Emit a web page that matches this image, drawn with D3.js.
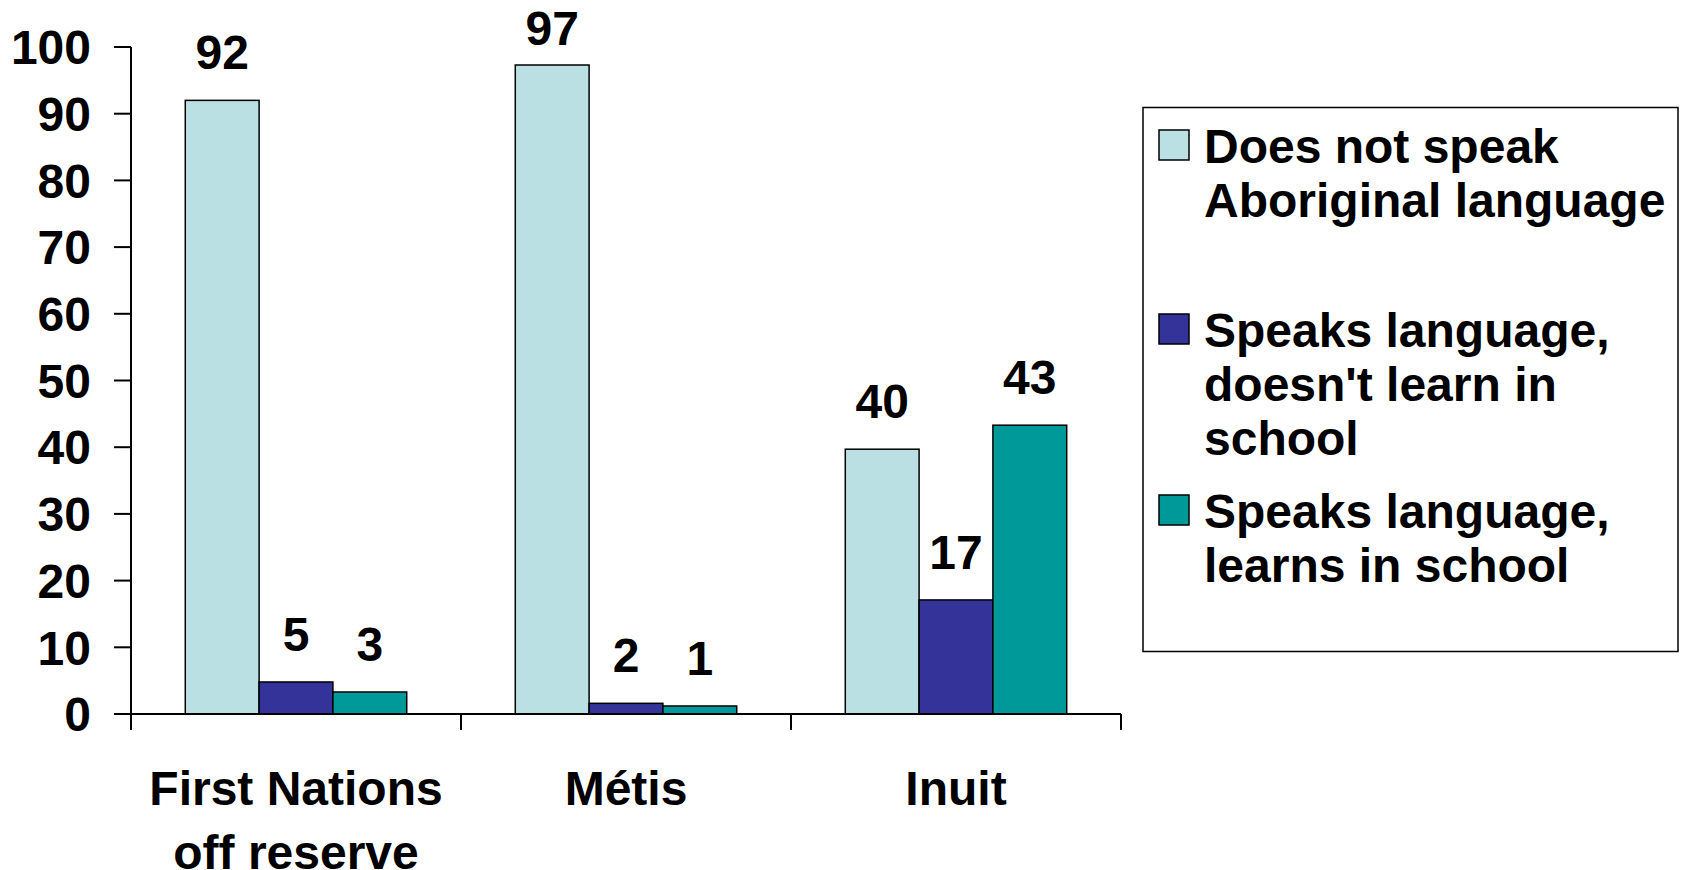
<!DOCTYPE html>
<html><head><meta charset="utf-8">
<script src="https://cdn.jsdelivr.net/npm/d3@7"></script>
<style>
html,body{margin:0;padding:0;background:#fff;}
text{font-family:"Liberation Sans",Arial,sans-serif;font-weight:bold;fill:#000;}
</style></head>
<body>
<svg id="chart" width="1686" height="870"></svg>
<script>
const categories = [["First Nations","off reserve"],["Métis"],["Inuit"]];
const categoryKeys = ["First Nations off reserve","Métis","Inuit"];
const seriesNames = ["Does not speak Aboriginal language","Speaks language, doesn't learn in school","Speaks language, learns in school"];
const legendLines = [["Does not speak","Aboriginal language"],["Speaks language,","doesn't learn in","school"],["Speaks language,","learns in school"]];
const doesNotSpeak = [92.0, 97.3, 39.7];
const speaksNotSchool = [4.8, 1.6, 17.1];
const speaksSchool = [3.3, 1.2, 43.3];
const yTicks = [0,10,20,30,40,50,60,70,80,90,100];
const colors = ["#BBE0E3","#333399","#009999"];

const seriesValues = [doesNotSpeak, speaksNotSchool, speaksSchool];
const svg = d3.select("#chart");
const FS = 48;

const y = d3.scaleLinear().domain([0,100]).range([714,47]);
const x0 = d3.scaleBand().domain(categoryKeys).range([131,1121]).paddingInner(0.329).paddingOuter(0.1645);
const x1 = d3.scaleBand().domain(seriesNames).range([0,x0.bandwidth()]).padding(0);

// Bars
const groups = svg.append("g").selectAll("g").data(categoryKeys).join("g")
  .attr("transform", d => `translate(${x0(d)},0)`);
groups.each(function(cat, ci){
  const g = d3.select(this);
  seriesNames.forEach((s, si) => {
    const v = seriesValues[si][ci];
    g.append("rect")
      .attr("x", x1(s)).attr("y", y(v))
      .attr("width", x1.bandwidth()).attr("height", y(0)-y(v))
      .attr("fill", colors[si]).attr("stroke", "#000").attr("stroke-width", 1.5);
    g.append("text")
      .attr("x", x1(s)+x1.bandwidth()/2).attr("y", Math.max(45, y(v)-31))
      .attr("text-anchor","middle").attr("font-size",FS)
      .text(Math.round(v));
  });
});

// Y axis
const yAxis = svg.append("g");
yAxis.append("line").attr("x1",131).attr("x2",131).attr("y1",y(100)).attr("y2",730)
  .attr("stroke","#000").attr("stroke-width",2);
yAxis.selectAll("line.tick").data(yTicks).join("line").attr("class","tick")
  .attr("x1",114).attr("x2",131).attr("y1",d=>y(d)).attr("y2",d=>y(d))
  .attr("stroke","#000").attr("stroke-width",2);
yAxis.selectAll("text").data(yTicks).join("text")
  .attr("x",91).attr("y",d=>y(d)).attr("dy","0.36em")
  .attr("text-anchor","end").attr("font-size",FS).text(d=>d);

// X axis
const xAxis = svg.append("g");
xAxis.append("line").attr("x1",114).attr("x2",1121).attr("y1",y(0)).attr("y2",y(0))
  .attr("stroke","#000").attr("stroke-width",2);
const bounds = [x0.range()[0], ...categoryKeys.map(c => x0(c)+x0.bandwidth()+x0.step()*x0.paddingInner()/2)];
xAxis.selectAll("line.tick").data(bounds).join("line").attr("class","tick")
  .attr("x1",d=>d).attr("x2",d=>d).attr("y1",y(0)).attr("y2",730)
  .attr("stroke","#000").attr("stroke-width",2);
categoryKeys.forEach((c, i) => {
  const t = xAxis.append("text").attr("text-anchor","middle").attr("font-size",FS);
  categories[i].forEach((line, li) => {
    t.append("tspan").attr("x", x0(c)+x0.bandwidth()/2).attr("y", 805 + li*64).text(line);
  });
});

// Legend
const lg = svg.append("g");
lg.append("rect").attr("x",1143).attr("y",107.5).attr("width",535).attr("height",544)
  .attr("fill","#fff").attr("stroke","#000").attr("stroke-width",1.5);
const entryBase = [163, 347, 528];
seriesNames.forEach((s, i) => {
  lg.append("rect").attr("x",1159).attr("y",entryBase[i]-33).attr("width",30).attr("height",30)
    .attr("fill",colors[i]).attr("stroke","#000").attr("stroke-width",1.5);
  const t = lg.append("text").attr("font-size",FS);
  legendLines[i].forEach((line, li) => {
    t.append("tspan").attr("x",1204).attr("y",entryBase[i]+li*54).text(line);
  });
});
</script>
</body></html>
